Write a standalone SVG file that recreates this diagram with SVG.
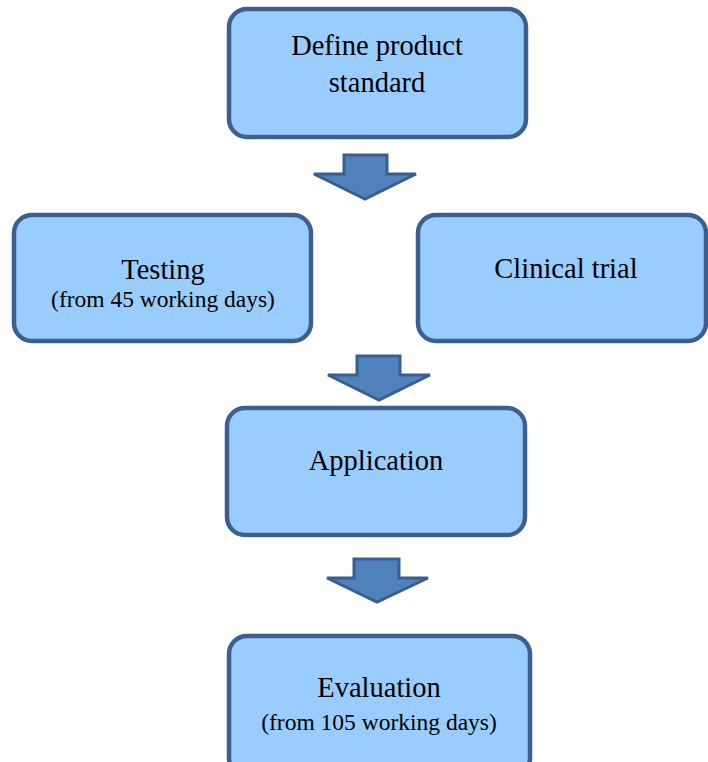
<svg xmlns="http://www.w3.org/2000/svg" width="708" height="762" viewBox="0 0 708 762">
<style>
.box{fill:#99CCFF;stroke:#3C5F8F;stroke-width:4.5}
.arr{fill:#4F81BD;stroke:#3A5F8E;stroke-width:3;stroke-linejoin:miter}
.t{font-family:"Liberation Serif","Times New Roman",serif;fill:#000;text-anchor:middle}
.l{font-size:28.5px}
.s{font-size:23.5px}
</style>
<rect width="708" height="762" fill="#fff"/>
<g id="connectors">
<polygon class="arr" points="344,155 387,155 387,174 416,174 365,199 314,174 344,174"/>
<polygon class="arr" points="357,356 400,356 400,375 430,375 379,400 328,375 357,375"/>
<polygon class="arr" points="354,559 399,559 399,578 428,578 377,602 327,578 354,578"/>
</g>
<g id="define">
<rect class="box" x="229" y="9" width="297" height="128" rx="18"/>
<text class="t l" x="377" y="55">Define product</text>
<text class="t l" x="377" y="92">standard</text>
</g>
<g id="testing">
<rect class="box" x="14" y="215" width="297" height="126" rx="18"/>
<text class="t l" x="163" y="279">Testing</text>
<text class="t s" x="163" y="307">(from 45 working days)</text>
</g>
<g id="clinical">
<rect class="box" x="418" y="215" width="288" height="126" rx="18"/>
<text class="t l" x="566" y="278">Clinical trial</text>
</g>
<g id="application">
<rect class="box" x="227" y="408" width="298" height="127" rx="18"/>
<text class="t l" x="376" y="470">Application</text>
</g>
<g id="evaluation">
<rect class="box" x="229" y="636" width="301" height="140" rx="18"/>
<text class="t l" x="379" y="697">Evaluation</text>
<text class="t s" x="379" y="730">(from 105 working days)</text>
</g>
</svg>
